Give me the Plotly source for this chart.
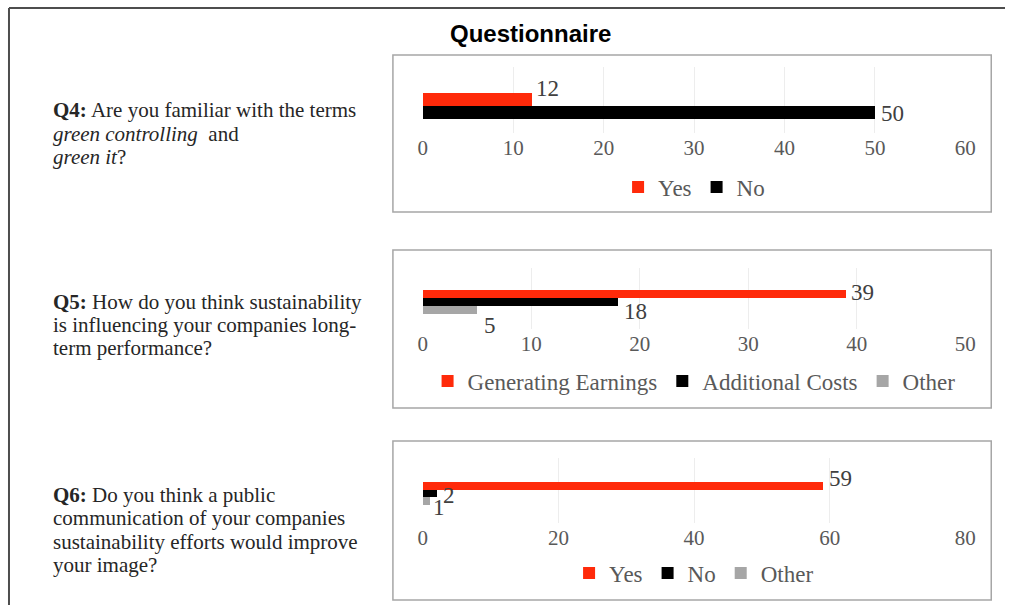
import plotly.graph_objects as go

W, H = 1016, 605

# Survey answers (number of respondents)
q4_labels = ["Yes", "No"]
q4_values = [12, 50]
q5_labels = ["Generating Earnings", "Additional Costs", "Other"]
q5_values = [39, 18, 5]
q6_labels = ["Yes", "No", "Other"]
q6_values = [59, 2, 1]

# x-axis ticks for each panel
q4_ticks = [0, 10, 20, 30, 40, 50, 60]
q5_ticks = [0, 10, 20, 30, 40, 50]
q6_ticks = [0, 20, 40, 60, 80]

q4_lines = ["<b>Q4:</b> Are you familiar with the terms",
            "<i>green controlling</i>\u00a0 and",
            "<i>green it</i>?"]
q5_lines = ["<b>Q5:</b> How do you think sustainability",
            "is influencing your companies long-",
            "term performance?"]
q6_lines = ["<b>Q6:</b> Do you think a public",
            "communication of your companies",
            "sustainability efforts would improve",
            "your image?"]

COLORS = ["#FF2A0A", "#000000", "#A6A6A6"]
SERIF = "Liberation Serif, Times New Roman, serif"
GREY_TXT = "#595959"

# horizontal page geometry correction (rendered width vs layout width)
SX, OX = 0.987, 4.0


def px(x):
    return ((x - OX) / SX) / W


def py(y):
    return 1 - y / H


panels = [
    dict(labels=q4_labels, values=q4_values, ticks=q4_ticks, lines=q4_lines,
         box=(393, 55, 993, 212), plot=(67, 133), yr=[1.038, -1.5],
         legend_y=187, line_y=[110, 134, 157],
         shifts=[(3, 11), (4, -1)]),
    dict(labels=q5_labels, values=q5_values, ticks=q5_ticks, lines=q5_lines,
         box=(393, 250, 993, 408), plot=(268, 329), yr=[1.125, -1.417],
         legend_y=381, line_y=[302, 325, 348],
         shifts=[(3, 1), (4, -10), (5, -16)]),
    dict(labels=q6_labels, values=q6_values, ticks=q6_ticks, lines=q6_lines,
         box=(393, 441, 993, 600), plot=(458, 523), yr=[1.283, -1.543],
         legend_y=573, line_y=[495, 518, 542, 565],
         shifts=[(4, 7), (5, -2), (1, -6)]),
]

X0, X1 = 423, 967

fig = go.Figure()
shapes = []
annotations = []
layout = {}

# outer frame
shapes.append(dict(type="line", xref="paper", yref="paper",
                   x0=px(8), x1=1, y0=py(8), y1=py(8),
                   line=dict(color="#4D4D4D", width=2)))
shapes.append(dict(type="line", xref="paper", yref="paper",
                   x0=px(8), x1=px(8), y0=py(8), y1=0,
                   line=dict(color="#4D4D4D", width=2)))

for k, p in enumerate(panels):
    n = k + 1
    sfx = "" if n == 1 else str(n)
    xa, ya = "x" + sfx, "y" + sfx
    leg = "legend" + sfx
    count = len(p["values"])
    for i, (lab, val) in enumerate(zip(p["labels"], p["values"])):
        fig.add_trace(go.Bar(
            x=[val], y=[0], orientation="h", name=lab,
            marker=dict(color=COLORS[i], line=dict(width=0)),
            xaxis=xa, yaxis=ya, legend=leg, hoverinfo="skip",
        ))
        center = -0.5 + (i + 0.5) / count
        dx, dy = p["shifts"][i]
        annotations.append(dict(
            x=val, y=center, xref=xa, yref=ya, text=str(val),
            showarrow=False, xanchor="left", yanchor="middle",
            xshift=dx, yshift=dy,
            font=dict(family=SERIF, size=23, color="#404040"),
        ))

    top, bottom = p["plot"]
    layout["xaxis" + sfx] = dict(
        domain=[px(X0), px(X1)], anchor=ya,
        range=[0, p["ticks"][-1]], tickvals=p["ticks"],
        showgrid=True, gridcolor="#EDEDED", gridwidth=1,
        zeroline=False, showline=False, ticks="",
        tickfont=dict(family=SERIF, size=21, color=GREY_TXT),
        fixedrange=True,
    )
    layout["yaxis" + sfx] = dict(
        domain=[py(bottom), py(top)], anchor=xa,
        range=p["yr"], showticklabels=False, showgrid=False,
        zeroline=False, showline=False, fixedrange=True,
    )
    layout[leg] = dict(
        orientation="h", x=px((X0 + X1) / 2), xanchor="center",
        y=py(p["legend_y"]), yanchor="middle",
        font=dict(family=SERIF, size=23, color=GREY_TXT),
        bgcolor="rgba(0,0,0,0)", itemclick=False, itemdoubleclick=False,
        tracegroupgap=0, itemwidth=30,
    )

    bx0, by0, bx1, by1 = p["box"]
    shapes.append(dict(type="rect", xref="paper", yref="paper",
                       x0=px(bx0), x1=px(bx1), y0=py(by1), y1=py(by0),
                       line=dict(color="#A6A6A6", width=1.5)))

    for line, ly in zip(p["lines"], p["line_y"]):
        annotations.append(dict(
            x=px(50), y=py(ly), xref="paper", yref="paper",
            text=line, showarrow=False, xanchor="left", yanchor="middle",
            align="left", font=dict(family=SERIF, size=21, color="#262626"),
        ))

annotations.append(dict(
    x=px(531), y=py(33), xref="paper", yref="paper",
    text="<b>Questionnaire</b>", showarrow=False,
    xanchor="center", yanchor="middle",
    font=dict(family="Liberation Sans, Arial, sans-serif", size=24, color="#000000"),
))

fig.update_layout(
    width=W, height=H,
    margin=dict(l=0, r=0, t=0, b=0),
    paper_bgcolor="white", plot_bgcolor="white",
    barmode="group", bargap=0, bargroupgap=0,
    showlegend=True,
    shapes=shapes, annotations=annotations,
    **layout,
)

fig.write_html("out.html", config={"displayModeBar": False})
